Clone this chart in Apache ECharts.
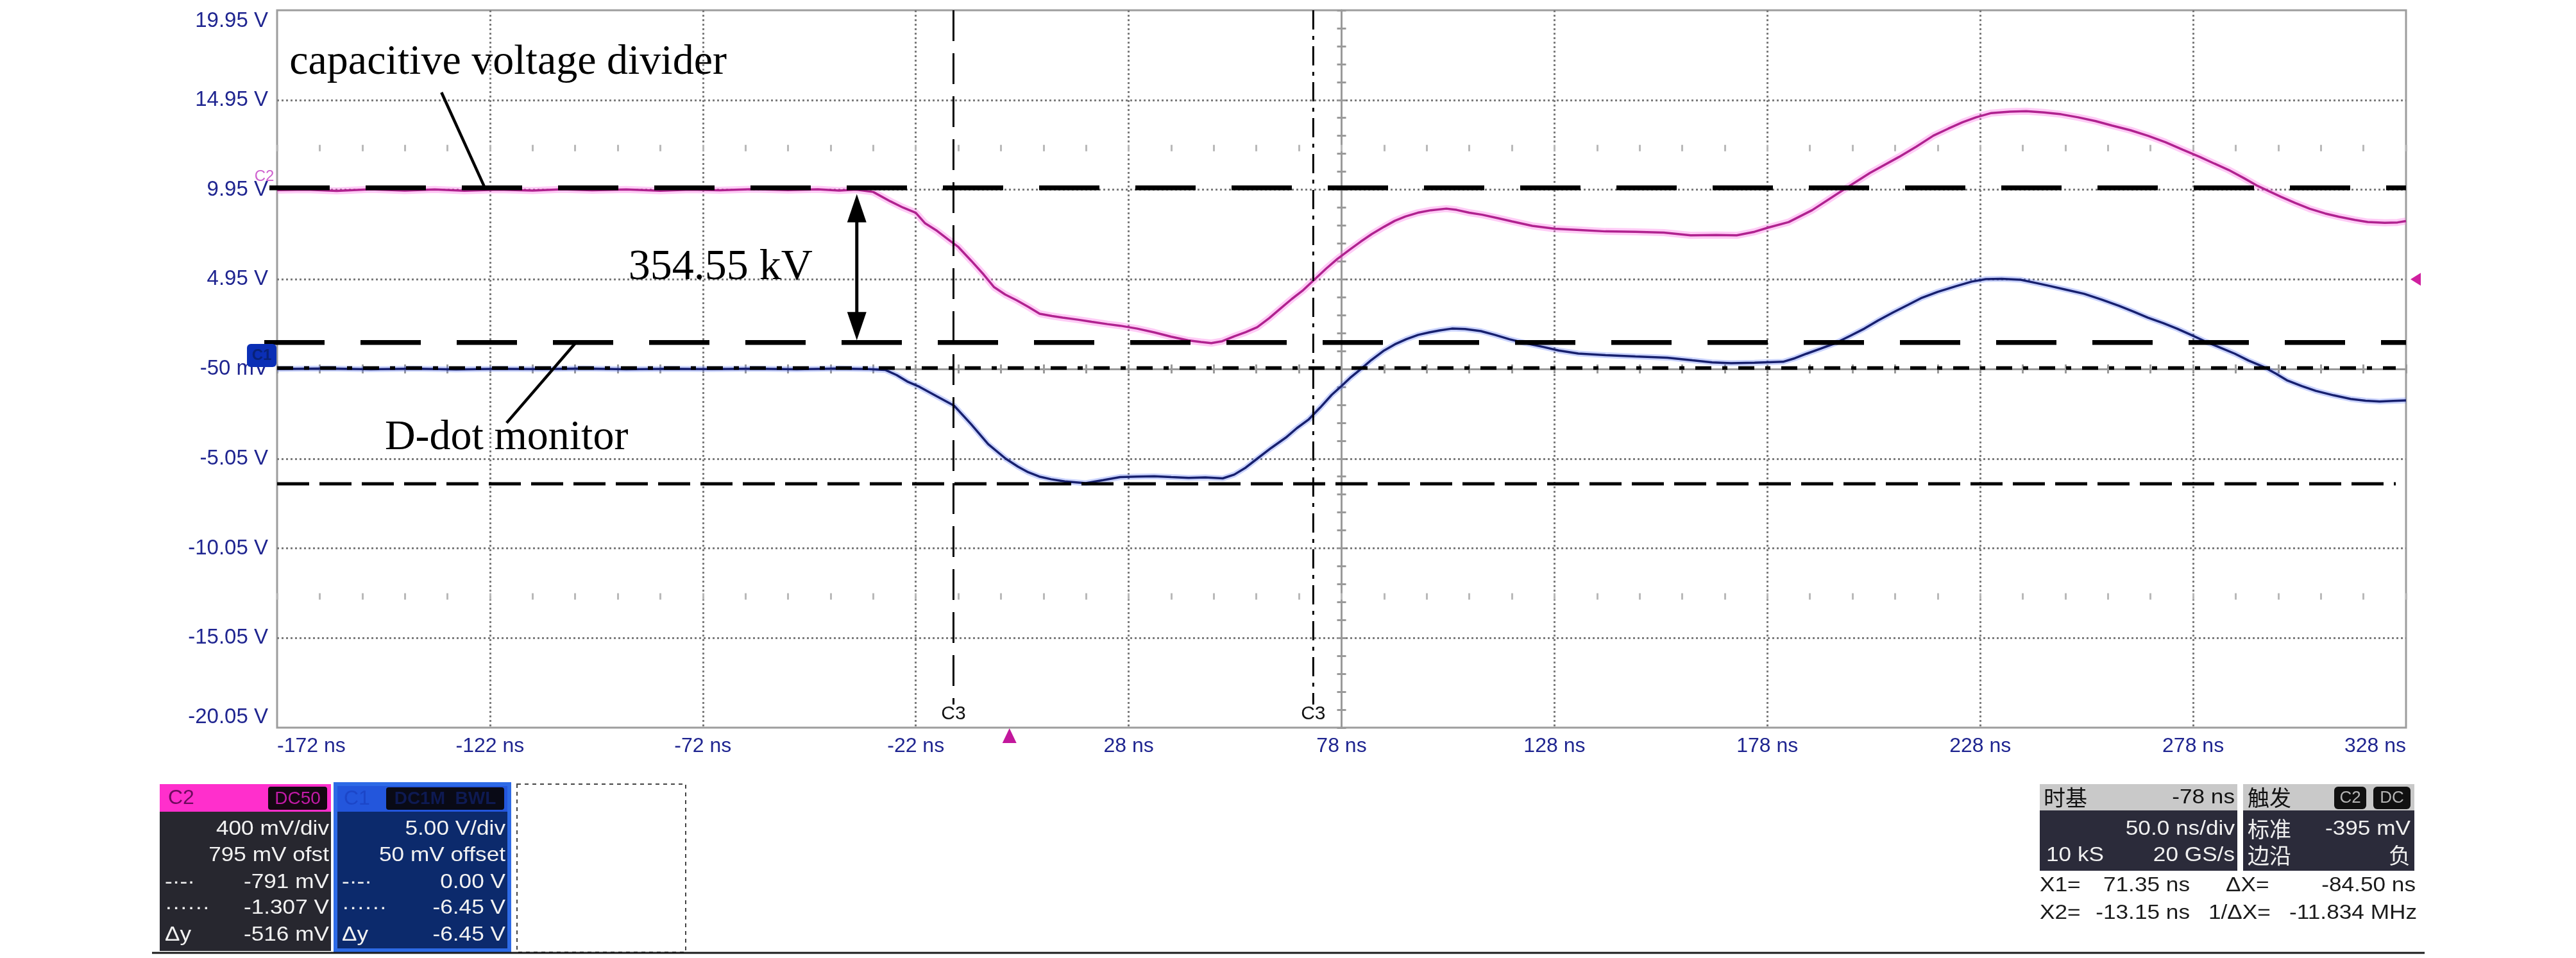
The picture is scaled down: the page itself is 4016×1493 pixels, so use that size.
<!DOCTYPE html>
<html><head><meta charset="utf-8">
<script src="https://cdn.jsdelivr.net/npm/echarts@6/dist/echarts.min.js"></script>
<style>html,body{margin:0;padding:0;background:#fff;}#c{width:4016px;height:1493px;}</style>
</head><body><div id="c"></div>
<script>
// ---------------- DATA ----------------
const xTickValues = [-172, -122, -72, -22, 28, 78, 128, 178, 228, 278, 328];
const xTickLabels = ['-172 ns','-122 ns','-72 ns','-22 ns','28 ns','78 ns','128 ns','178 ns','228 ns','278 ns','328 ns'];
const yTickValues = [-20.05, -15.05, -10.05, -5.05, -0.05, 4.95, 9.95, 14.95, 19.95];
const yTickLabels = ['-20.05 V','-15.05 V','-10.05 V','-5.05 V','-50 mV','4.95 V','9.95 V','14.95 V','19.95 V'];

// C2 (capacitive voltage divider) trace, time in ns, screen volts
const c2Time = [-172,-165,-158,-150,-142,-135,-128,-120,-112,-105,-98,-90,-82,-75,-68,-60,-52,-45,-40,-36,-32,-28,-25,-22,-19.8,-17,-14.4,-12,-9,-6,-3.6,-1,1.7,4.5,7.1,10,12.5,16,19.3,23,26,30,34,38,42,45,47.4,50,52.8,55.5,58.2,61,63.6,66.3,69,71.7,74.4,77,79.8,82.5,85.1,88,90.5,93,95.9,99,102.6,105,108,111,114.7,118,122.8,128.1,134,140,147,153.7,160,166,170.8,175,178.3,183,188.5,195.3,202.1,208.9,213,217,220.5,223.8,227,230.6,235,238.8,243,247,251,255.1,259,263.3,267.4,271.5,275.5,279.6,283,286.4,290,293.2,298.6,302,305.4,309,312.2,316,319,323,326,328];
const c2Volts = [9.92,9.95,9.88,9.97,9.90,9.96,9.89,9.95,9.90,9.97,9.91,9.96,9.89,9.95,9.91,9.98,9.92,9.97,9.90,9.95,9.82,9.30,8.95,8.66,8.07,7.65,7.17,6.75,5.99,5.20,4.51,4.10,3.78,3.40,3.03,2.90,2.81,2.70,2.58,2.45,2.36,2.20,1.99,1.75,1.54,1.45,1.39,1.50,1.77,2.00,2.28,2.78,3.31,3.85,4.35,4.95,5.55,6.08,6.58,7.05,7.47,7.88,8.21,8.45,8.66,8.80,8.89,8.82,8.66,8.55,8.36,8.18,7.93,7.77,7.70,7.62,7.60,7.55,7.40,7.42,7.40,7.60,7.84,8.14,8.80,9.85,10.88,11.77,12.35,12.96,13.35,13.70,13.98,14.22,14.30,14.32,14.25,14.15,13.98,13.77,13.52,13.26,12.95,12.59,12.18,11.77,11.40,11.04,10.58,10.15,9.55,9.20,8.88,8.62,8.44,8.26,8.14,8.10,8.12,8.20];

// C1 (D-dot monitor) trace
const c1Time = [-172,-160,-150,-140,-130,-120,-110,-100,-90,-80,-70,-60,-50,-40,-33,-29.2,-26.5,-24,-21.1,-17.1,-13,-9,-5,-0.9,2,4.4,7,9.8,13,17.9,22,26,30,34,38,42.1,46,50.1,52.8,55.5,58.2,61.5,64.9,67.5,70.3,73,75.7,78,80,82.4,85,87.8,90.5,93.2,96,98.6,101,103.9,107,110.7,114,117.4,121,125.5,129,133.6,140,147,154.5,160.4,165,169.5,175,181.7,184.5,187.2,190.5,194,197.5,200.8,204,207.5,211,214.3,218,222.5,226,229.3,233,237.5,241,244.3,248,252.4,256.5,260.6,264,267.4,271,274.2,277.5,281,284.5,287.8,291,294.6,297.5,300,303.5,306.8,311,315,318.5,321.8,325,328];
const c1Volts = [-0.05,-0.02,-0.07,-0.03,-0.08,-0.04,-0.06,-0.02,-0.07,-0.04,-0.06,-0.03,-0.07,-0.02,-0.06,-0.10,-0.39,-0.75,-1.05,-1.57,-2.10,-3.13,-4.24,-5.05,-5.50,-5.81,-6.05,-6.20,-6.32,-6.42,-6.25,-6.08,-6.05,-6.03,-6.08,-6.12,-6.10,-6.15,-5.94,-5.55,-5.05,-4.45,-3.88,-3.35,-2.86,-2.20,-1.49,-1.00,-0.55,-0.08,0.45,0.95,1.32,1.61,1.85,1.99,2.10,2.20,2.18,2.06,1.85,1.61,1.40,1.17,0.98,0.81,0.72,0.65,0.58,0.43,0.32,0.27,0.30,0.35,0.55,0.80,1.08,1.39,1.80,2.20,2.65,3.10,3.52,3.92,4.25,4.58,4.82,4.96,4.98,4.92,4.75,4.58,4.38,4.14,3.82,3.47,3.15,2.81,2.50,2.20,1.85,1.47,1.13,0.80,0.42,0.06,-0.32,-0.68,-1.00,-1.27,-1.52,-1.72,-1.82,-1.87,-1.83,-1.80];

// cursors / annotation levels (ns, V)
const cursorX1 = 71.35;
const cursorX2 = -13.15;
const refLevelC2 = 10.05;      // upper dashed reference
const refLevelC1 = 1.43;       // lower dashed reference
const cursorLevelDot = -6.45;  // C1 dotted cursor
const cursorLevelDash = 0.00;  // C1 dash-dot cursor
const triggerTime = 0;
const triggerLevel = 4.95;
const deltaLabel = '354.55 kV';

// ---------------- LAYOUT ----------------
const G = {left: 432, top: 16, width: 3319, height: 1118};
const DX = G.width / 10, DY = G.height / 8;
const sansF = '"Liberation Sans", Arial, sans-serif';
const serifF = '"Liberation Serif", "Times New Roman", serif';
const cjkF = '"Noto Sans CJK SC", "Liberation Sans", sans-serif';
const axisBlue = '#1f2590';
const gridGray = '#7c7c7c';

function pick(values, labels, v) {
  let bi = 0, bd = Infinity;
  values.forEach((x, i) => { const d = Math.abs(x - v); if (d < bd) { bd = d; bi = i; } });
  return labels[bi];
}
const off = {show: false};
function decoX(extra) {
  return Object.assign({type: 'value', gridIndex: 0, min: 0, max: 10, interval: 0.2, position: 'bottom',
    axisLine: {show: false, onZero: false}, axisTick: off, axisLabel: off, splitLine: off, silent: true}, extra);
}
function decoY(extra) {
  return Object.assign({type: 'value', gridIndex: 0, min: 0, max: 8, interval: 0.2, position: 'left',
    axisLine: {show: false, onZero: false}, axisTick: off, axisLabel: off, splitLine: off, silent: true}, extra);
}
const crossTick = (inside) => ({show: true, inside: inside, length: 7, lineStyle: {color: '#9a9a9a', width: 3}});
const faintTick = {show: true, length: 10, lineStyle: {color: '#b9b9b9', width: 3}};
const gridSplit = {show: true, showMinLine: false, showMaxLine: false, lineStyle: {color: gridGray, width: 3, type: [3, 4]}};

const option = {
  backgroundColor: '#ffffff',
  animation: false,
  grid: {left: G.left, top: G.top, width: G.width, height: G.height, show: true,
         borderColor: '#9d9d9d', borderWidth: 3, backgroundColor: 'transparent', outerBoundsMode: 'none', containLabel: false},
  xAxis: [
    {type: 'value', min: -172, max: 328, position: 'bottom',
     axisLine: {show: false, onZero: false}, axisTick: off, splitLine: off,
     axisLabel: {show: true, customValues: xTickValues, formatter: v => pick(xTickValues, xTickLabels, v),
                 color: axisBlue, fontSize: 32, fontFamily: sansF, margin: 13,
                 alignMinLabel: 'left', alignMaxLabel: 'right'}},
    decoX({interval: 1, splitLine: gridSplit}),
    decoX({offset: -G.height / 2, axisLine: {show: true, onZero: false, lineStyle: {color: '#9a9a9a', width: 3}}, axisTick: crossTick(false)}),
    decoX({offset: -G.height / 2, axisTick: crossTick(true)}),
    decoX({offset: -DY * 6.5, axisTick: faintTick}),
    decoX({offset: -DY * 1.5, axisTick: faintTick})
  ],
  yAxis: [
    {type: 'value', min: -20.05, max: 19.95, position: 'left',
     axisLine: {show: false, onZero: false}, axisTick: off, splitLine: off,
     axisLabel: {show: true, customValues: yTickValues, formatter: v => pick(yTickValues, yTickLabels, v),
                 color: axisBlue, fontSize: 33, fontFamily: sansF, margin: 14,
                 verticalAlignMinLabel: 'bottom', verticalAlignMaxLabel: 'top'}},
    decoY({interval: 1, splitLine: gridSplit}),
    decoY({offset: -G.width / 2, axisLine: {show: true, onZero: false, lineStyle: {color: '#9a9a9a', width: 3}}, axisTick: crossTick(false)}),
    decoY({offset: -G.width / 2, axisTick: crossTick(true)})
  ],
  series: [
    {type: 'line', name: 'C2 halo', xAxisIndex: 0, yAxisIndex: 0, showSymbol: false, silent: true, z: 3,
     data: c2Time.map((t, i) => [t, c2Volts[i]]), lineStyle: {color: 'rgba(255,110,230,0.35)', width: 11}},
    {type: 'line', name: 'C2', xAxisIndex: 0, yAxisIndex: 0, showSymbol: false, silent: true, z: 4,
     data: c2Time.map((t, i) => [t, c2Volts[i]]), lineStyle: {color: '#b0228f', width: 3.5}},
    {type: 'line', name: 'C1 halo', xAxisIndex: 0, yAxisIndex: 0, showSymbol: false, silent: true, z: 3,
     data: c1Time.map((t, i) => [t, c1Volts[i]]), lineStyle: {color: 'rgba(70,100,255,0.28)', width: 9}},
    {type: 'line', name: 'C1', xAxisIndex: 0, yAxisIndex: 0, showSymbol: false, silent: true, z: 4,
     data: c1Time.map((t, i) => [t, c1Volts[i]]), lineStyle: {color: '#17206e', width: 3.5}}
  ]
};

const chart = echarts.init(document.getElementById('c'), null, {renderer: 'canvas', width: 4016, height: 1493});
chart.setOption(option);

// ---------------- ANNOTATIONS ----------------
const P = (t, v) => chart.convertToPixel({seriesIndex: 1}, [t, v]);
const g = [];
const Z = 100;
function line(x1, y1, x2, y2, stroke, w, dash, z) {
  g.push({type: 'line', z: z || Z, silent: true, shape: {x1, y1, x2, y2},
          style: {stroke, lineWidth: w, lineDash: dash || null, lineCap: 'butt'}});
}
function txt(x, y, s, o) {
  o = o || {};
  g.push({type: 'text', z: Z + 1, silent: true, x: x, y: y, scaleX: o.sx || 1,
          style: {text: s, x: 0, y: 0, align: o.align || 'left', verticalAlign: o.va || 'middle',
                  font: o.font || ('32px ' + sansF), fill: o.fill || '#000'}});
}
function rect(x, y, w, h, fill, o) {
  o = o || {};
  g.push({type: 'rect', z: Z, silent: true, shape: {x, y, width: w, height: h, r: o.r || 0},
          style: Object.assign({fill: fill}, o.style || {})});
}
function poly(points, fill) {
  g.push({type: 'polygon', z: Z, silent: true, shape: {points}, style: {fill}});
}

const [xL, yTop] = P(-172, 19.95);
const [xR, yBot] = P(328, -20.05);

// horizontal reference lines
let a = P(-172, refLevelC2);  line(a[0] - 12, a[1], xR, a[1], '#000', 7.5, [94, 56]);
a = P(-172, refLevelC1);      line(a[0] - 20, a[1], xR, a[1], '#000', 7.5, [94, 56]);
a = P(-172, cursorLevelDot);  line(xL, a[1], xR - 16, a[1], '#000', 5, [50, 16]);
a = P(-172, cursorLevelDash); line(xL, a[1], xR - 16, a[1], '#000', 5.5, [25, 17, 8, 17]);

// vertical time cursors
a = P(cursorX2, 0); line(a[0], yTop, a[0], yBot - 36, '#000', 3, [48, 19]);
txt(a[0], yBot - 21, 'C3', {align: 'center', font: '30px ' + sansF, fill: '#111'});
a = P(cursorX1, 0); line(a[0], yTop, a[0], yBot - 36, '#000', 3, [30, 10, 6, 10]);
txt(a[0], yBot - 21, 'C3', {align: 'center', font: '30px ' + sansF, fill: '#111'});

// double arrow
const at = P(-35.85, 9.7), ab = P(-35.85, 1.55);
line(at[0], at[1] + 30, ab[0], ab[1] - 30, '#000', 5);
poly([[at[0], at[1]], [at[0] - 15, at[1] + 44], [at[0] + 15, at[1] + 44]], '#000');
poly([[ab[0], ab[1]], [ab[0] - 15, ab[1] - 44], [ab[0] + 15, ab[1] - 44]], '#000');

// leader lines
let p1 = P(-133.4, 15.37), p2 = P(-123.4, 10.15); line(p1[0], p1[1], p2[0], p2[1], '#000', 4.5);
p1 = P(-101.97, 1.38); p2 = P(-118.1, -3.06); line(p1[0], p1[1], p2[0], p2[1], '#000', 4.5);

// annotation texts
a = P(-169.1, 17.02); txt(a[0], a[1], 'capacitive voltage divider', {font: '66px ' + serifF});
a = P(-89.5, 5.60);   txt(a[0], a[1], deltaLabel, {font: '68px ' + serifF});
a = P(-146.7, -3.92); txt(a[0], a[1], 'D-dot monitor', {font: '66px ' + serifF});

// trigger markers
a = P(triggerTime, -20.05);
poly([[a[0], a[1] + 1], [a[0] - 11, a[1] + 24], [a[0] + 11, a[1] + 24]], '#c2179c');
a = P(328, triggerLevel);
poly([[a[0] + 7, a[1]], [a[0] + 23, a[1] - 10], [a[0] + 23, a[1] + 10]], '#d0209f');

// channel markers
a = P(-172, 9.95);
txt(a[0] - 20, a[1] - 20, 'C2', {align: 'center', font: '24px ' + sansF, fill: '#cf62cf'});
a = P(-172, -0.05);
rect(a[0] - 47, a[1] - 39, 46, 36, '#0b2fb5', {r: 6});
txt(a[0] - 24, a[1] - 21, 'C1', {align: 'center', font: 'bold 24px ' + sansF, fill: '#082279'});

// ---------------- BOTTOM INFO PANELS ----------------
const SX = 1.1;
// C2 panel
rect(249, 1222, 267, 260, '#27272f');
rect(249, 1222, 267, 43, '#ff2fcc');
txt(262, 1244, 'C2', {fill: '#6e0a5e', font: '32px ' + sansF});
rect(418, 1226, 92, 36, '#140812', {r: 4});
txt(464, 1245, 'DC50', {align: 'center', fill: '#c21aa6', font: '28px ' + sansF});
txt(513, 1292, '400 mV/div', {align: 'right', fill: '#f2f2f2', sx: SX});
txt(513, 1333, '795 mV ofst', {align: 'right', fill: '#f2f2f2', sx: SX});
txt(257, 1375, '-·-·', {fill: '#f2f2f2', sx: SX});
txt(513, 1375, '-791 mV', {align: 'right', fill: '#f2f2f2', sx: SX});
txt(257, 1415, '······', {fill: '#f2f2f2', sx: SX});
txt(513, 1415, '-1.307 V', {align: 'right', fill: '#f2f2f2', sx: SX});
txt(257, 1457, 'Δy', {fill: '#f2f2f2', sx: SX});
txt(513, 1457, '-516 mV', {align: 'right', fill: '#f2f2f2', sx: SX});
// C1 panel
rect(520, 1219, 277, 265, '#2d6ae6');
rect(526, 1265, 265, 213, '#0c2a6c');
rect(526, 1225, 265, 40, '#2356dc');
txt(536, 1245, 'C1', {fill: '#1c46c8', font: '32px ' + sansF});
rect(602, 1227, 184, 35, '#090a16', {r: 4});
txt(694, 1245, 'DC1M  BWL', {align: 'center', fill: '#0e1a52', font: 'bold 28px ' + sansF});
txt(788, 1292, '5.00 V/div', {align: 'right', fill: '#f2f2f2', sx: SX});
txt(788, 1333, '50 mV offset', {align: 'right', fill: '#f2f2f2', sx: SX});
txt(533, 1375, '-·-·', {fill: '#f2f2f2', sx: SX});
txt(788, 1375, '0.00 V', {align: 'right', fill: '#f2f2f2', sx: SX});
txt(533, 1415, '······', {fill: '#f2f2f2', sx: SX});
txt(788, 1415, '-6.45 V', {align: 'right', fill: '#f2f2f2', sx: SX});
txt(533, 1457, 'Δy', {fill: '#f2f2f2', sx: SX});
txt(788, 1457, '-6.45 V', {align: 'right', fill: '#f2f2f2', sx: SX});
// empty dashed box
rect(806, 1222, 263, 262, 'transparent', {style: {stroke: '#444', lineWidth: 2, lineDash: [6, 6]}});
// bottom rule
line(237, 1485, 3780, 1485, '#1a1a1a', 3);
// timebase panel
rect(3180, 1222, 308, 135, '#2b2b3a');
rect(3180, 1222, 308, 41, '#c9c9c9');
txt(3186, 1243, '时基', {font: '34px ' + cjkF, fill: '#111'});
txt(3484, 1243, '-78 ns', {align: 'right', fill: '#111', sx: SX});
txt(3484, 1292, '50.0 ns/div', {align: 'right', fill: '#f0f0f0', sx: SX});
txt(3190, 1333, '10 kS', {fill: '#f0f0f0', sx: SX});
txt(3484, 1333, '20 GS/s', {align: 'right', fill: '#f0f0f0', sx: SX});
// trigger panel
rect(3497, 1222, 267, 135, '#2b2b3a');
rect(3497, 1222, 267, 41, '#c9c9c9');
txt(3504, 1243, '触发', {font: '34px ' + cjkF, fill: '#111'});
rect(3639, 1226, 50, 35, '#111', {r: 6});
txt(3664, 1244, 'C2', {align: 'center', fill: '#b5b5b5', font: '26px ' + sansF});
rect(3700, 1226, 58, 35, '#111', {r: 6});
txt(3729, 1244, 'DC', {align: 'center', fill: '#b5b5b5', font: '26px ' + sansF});
txt(3504, 1292, '标准', {font: '34px ' + cjkF, fill: '#f0f0f0'});
txt(3758, 1292, '-395 mV', {align: 'right', fill: '#f0f0f0', sx: SX});
txt(3504, 1333, '边沿', {font: '34px ' + cjkF, fill: '#f0f0f0'});
txt(3758, 1333, '负', {align: 'right', font: '34px ' + cjkF, fill: '#f0f0f0'});
// cursor readouts
txt(3180, 1380, 'X1=', {fill: '#1a1a1a', sx: SX});
txt(3414, 1380, '71.35 ns', {align: 'right', fill: '#1a1a1a', sx: SX});
txt(3470, 1380, 'ΔX=', {fill: '#1a1a1a', sx: SX});
txt(3766, 1380, '-84.50 ns', {align: 'right', fill: '#1a1a1a', sx: SX});
txt(3180, 1423, 'X2=', {fill: '#1a1a1a', sx: SX});
txt(3414, 1423, '-13.15 ns', {align: 'right', fill: '#1a1a1a', sx: SX});
txt(3443, 1423, '1/ΔX=', {fill: '#1a1a1a', sx: SX});
txt(3768, 1423, '-11.834 MHz', {align: 'right', fill: '#1a1a1a', sx: SX});

chart.setOption({graphic: {elements: g}});
</script>
</body></html>
